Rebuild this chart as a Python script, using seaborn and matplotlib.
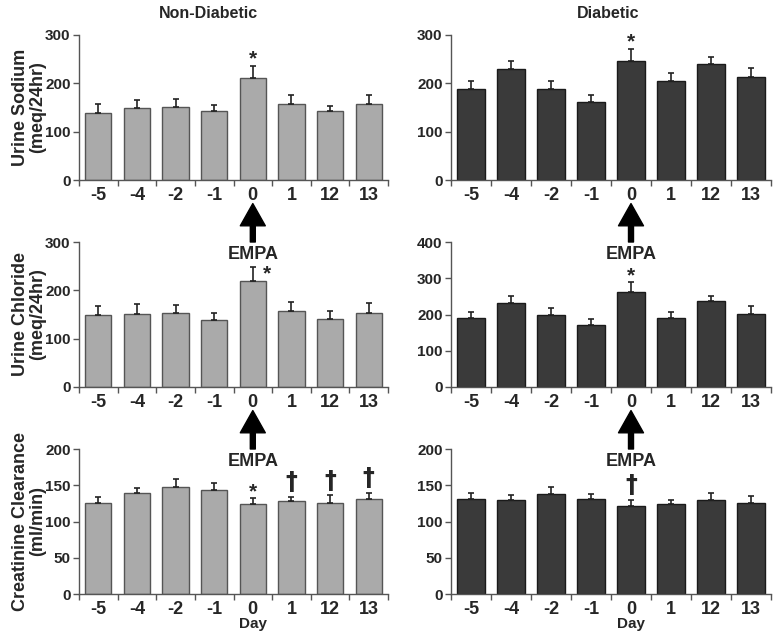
import matplotlib
matplotlib.use("Agg")
import matplotlib.pyplot as plt
import seaborn as sns
import pandas as pd
from matplotlib.ticker import FixedLocator, MultipleLocator

days = ["-5", "-4", "-2", "-1", "0", "1", "12", "13"]

nd_sodium = [139, 148, 152, 142, 212, 158, 142, 157]
nd_sodium_err = [18, 17, 16, 14, 24, 17, 12, 18]
d_sodium = [188, 230, 188, 162, 247, 204, 239, 214]
d_sodium_err = [17, 17, 16, 14, 24, 17, 15, 18]

nd_chloride = [148, 151, 153, 138, 220, 158, 141, 153]
nd_chloride_err = [19, 20, 17, 16, 28, 18, 16, 20]
d_chloride = [190, 232, 199, 170, 262, 190, 236, 202]
d_chloride_err = [18, 20, 19, 17, 27, 18, 16, 22]

nd_creat = [126, 139, 148, 144, 124, 128, 126, 131]
nd_creat_err = [8, 7, 10, 9, 8, 6, 10, 8]
d_creat = [131, 129, 138, 131, 122, 124, 129, 126]
d_creat_err = [8, 7, 10, 7, 8, 6, 10, 9]

ylabels = ["Urine Sodium\n(meq/24hr)", "Urine Chloride\n(meq/24hr)",
           "Creatinine Clearance\n(ml/min)"]
titles = ["Non-Diabetic", "Diabetic"]

ND_COLOR = "#aaaaaa"
D_COLOR = "#3a3a3a"

sns.set_style("ticks")
plt.rcParams["font.family"] = ["Liberation Sans", "DejaVu Sans"]
plt.rcParams["font.weight"] = "bold"

fig = plt.figure(figsize=(7.76, 6.33), dpi=100)

W, H = 776, 633
col_x = [(79, 388), (451, 771)]
row_y = [(35, 180), (242, 387), (449, 594)]

# panel -> (values, errors, ylim, ytick step, significance marks)
panels = {
    (0, 0): (nd_sodium, nd_sodium_err, 300, 100, [(4, "*", "top")]),
    (0, 1): (d_sodium, d_sodium_err, 300, 100, [(4, "*", "top")]),
    (1, 0): (nd_chloride, nd_chloride_err, 300, 100, [(4, "*", "right")]),
    (1, 1): (d_chloride, d_chloride_err, 400, 100, [(4, "*", "top")]),
    (2, 0): (nd_creat, nd_creat_err, 200, 50,
             [(4, "*", "top"), (5, "†", "top"), (6, "†", "top"), (7, "†", "top")]),
    (2, 1): (d_creat, d_creat_err, 200, 50, [(4, "†", "top")]),
}

for (r, c), (vals, errs, ymax, step, marks) in panels.items():
    x0, x1 = col_x[c]
    y0, y1 = row_y[r]
    ax = fig.add_axes([x0 / W, 1 - y1 / H, (x1 - x0) / W, (y1 - y0) / H])
    df = pd.DataFrame({"day": days, "value": vals})
    color = ND_COLOR if c == 0 else D_COLOR
    edge = "#555555" if c == 0 else "#1a1a1a"
    sns.barplot(data=df, x="day", y="value", order=days, color=color,
                saturation=1, edgecolor=edge, linewidth=1, width=0.68, ax=ax)
    ax.errorbar(range(len(days)), vals, yerr=[[0] * len(days), errs], fmt="none",
                ecolor="#222222", elinewidth=1.2, capsize=2.5, capthick=1.2, zorder=5)

    ax.set_xlim(-0.5, len(days) - 0.5)
    ax.set_ylim(0, ymax)
    ax.yaxis.set_major_locator(MultipleLocator(step))
    ax.xaxis.set_minor_locator(FixedLocator([i - 0.5 for i in range(len(days) + 1)]))
    ax.tick_params(axis="x", which="major", length=0, labelsize=13, pad=5)
    ax.tick_params(axis="x", which="minor", length=4, width=1, color="#555555")
    ax.tick_params(axis="y", length=4, width=1, color="#555555", labelsize=11, pad=2)
    for lab in ax.get_xticklabels() + ax.get_yticklabels():
        lab.set_fontweight("bold")
    sns.despine(ax=ax)
    for s in ["left", "bottom"]:
        ax.spines[s].set_color("#555555")
        ax.spines[s].set_linewidth(1)

    ax.set_ylabel("")
    ax.set_xlabel("")
    if c == 0:
        ax.set_ylabel(ylabels[r], fontsize=13, fontweight="bold", linespacing=1.05)
        ax.yaxis.set_label_coords(-0.105, 0.5)
    if r == 0:
        ax.set_title(titles[c], fontsize=11.5, fontweight="bold", pad=12,
                     x=0.42 if c == 0 else 0.49)
    if r == 2:
        ax.set_xlabel("Day", fontsize=11, fontweight="bold")
        ax.xaxis.set_label_coords(4.5 / len(days), -0.16)

    # significance marks
    for idx, sym, where in marks:
        top = vals[idx] + errs[idx]
        if where == "right":
            ax.annotate(sym, xy=(idx, top), xytext=(7, -5), textcoords="offset points",
                        ha="left", va="center", fontsize=15, fontweight="bold")
        elif sym == "*":
            ax.annotate(sym, xy=(idx, top), xytext=(0, -2), textcoords="offset points",
                        ha="center", va="bottom", fontsize=15, fontweight="bold")
        else:
            ax.annotate(sym, xy=(idx, top), xytext=(0, 2), textcoords="offset points",
                        ha="center", va="bottom", fontsize=17, fontweight="bold",
                        family="DejaVu Sans")

    # EMPA arrow into rows 2 and 3
    if r > 0:
        ax.annotate("", xy=(4, 1.265), xytext=(4, 1.0),
                    xycoords=("data", "axes fraction"),
                    textcoords=("data", "axes fraction"),
                    arrowprops=dict(arrowstyle="simple,head_length=16,head_width=18,tail_width=3.6",
                                    mutation_scale=1, color="black", shrinkA=0, shrinkB=0),
                    annotation_clip=False)
        ax.text(4, 0.915, "EMPA", transform=ax.get_xaxis_transform(),
                ha="center", va="center", fontsize=13, fontweight="bold")

fig.savefig("out.png", dpi=100)
